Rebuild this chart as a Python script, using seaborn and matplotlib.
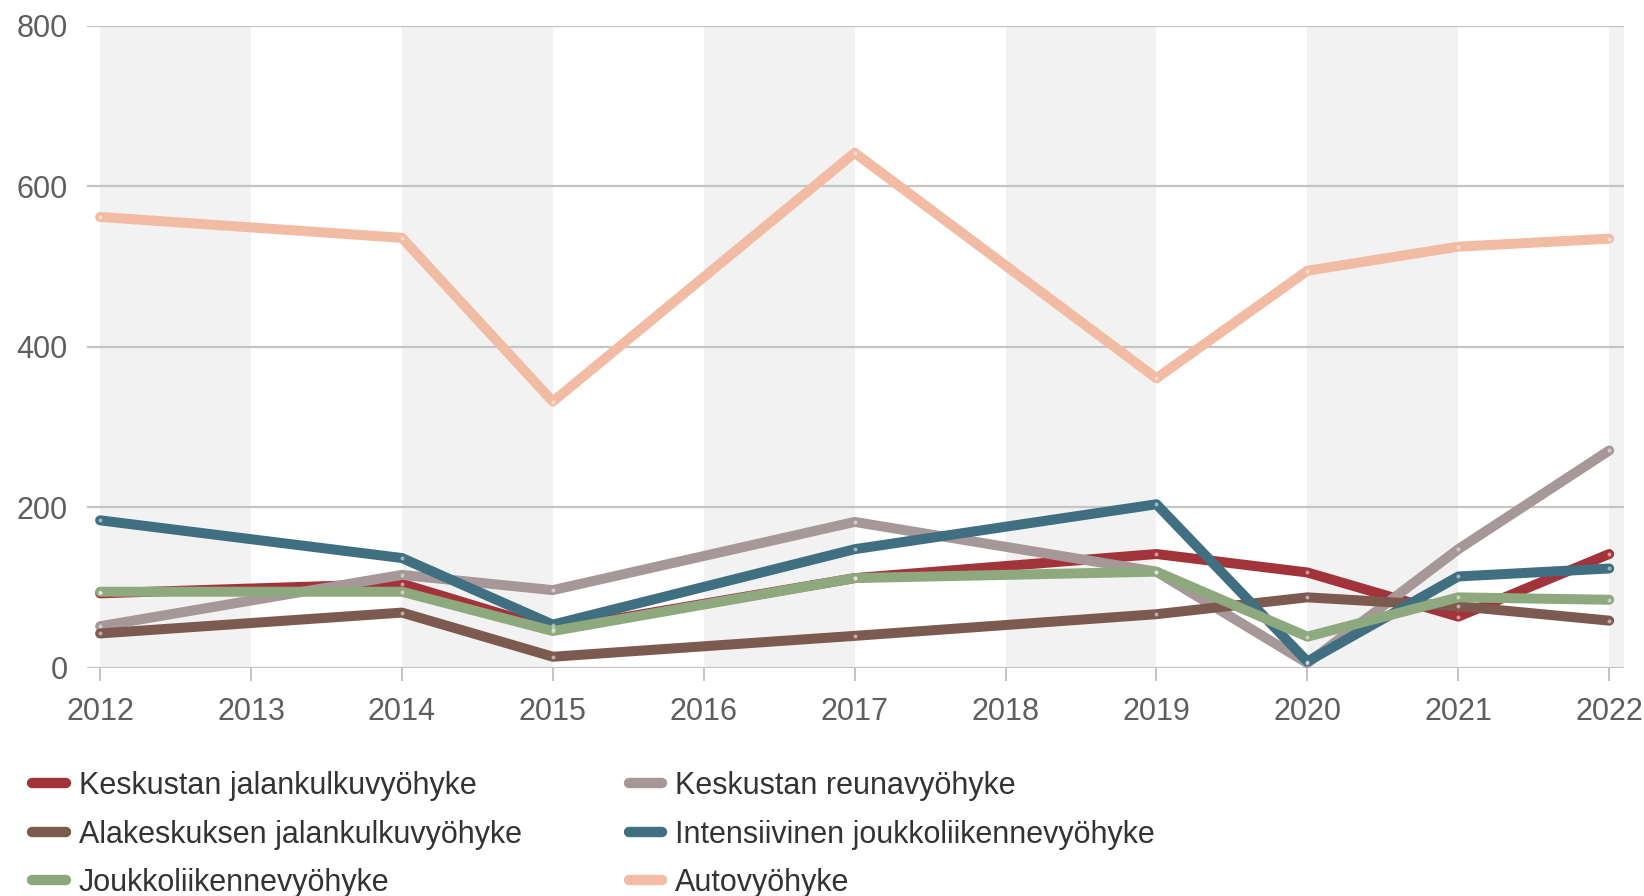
"""
Line chart of zone values 2012-2022, recreated with seaborn.
"""

import matplotlib
matplotlib.use("Agg")
import matplotlib.pyplot as plt
from matplotlib.lines import Line2D
import seaborn as sns
import pandas as pd

# Data
years = [2012, 2014, 2015, 2017, 2019, 2020, 2021, 2022]
keskustan_jalankulku = [93, 105, 48, 112, 142, 119, 64, 142]
keskustan_reuna = [52, 116, 97, 182, 120, 6, 148, 271]
alakeskuksen_jalankulku = [43, 69, 14, 40, 67, 88, 77, 59]
intensiivinen_joukkoliikenne = [184, 137, 54, 148, 204, 8, 114, 124]
joukkoliikenne = [95, 95, 46, 112, 120, 39, 88, 85]
autovyohyke = [562, 536, 332, 642, 361, 495, 525, 535]

series_names = [
    "Keskustan jalankulkuvyöhyke",
    "Keskustan reunavyöhyke",
    "Alakeskuksen jalankulkuvyöhyke",
    "Intensiivinen joukkoliikennevyöhyke",
    "Joukkoliikennevyöhyke",
    "Autovyöhyke",
]
series_values = [
    keskustan_jalankulku,
    keskustan_reuna,
    alakeskuksen_jalankulku,
    intensiivinen_joukkoliikenne,
    joukkoliikenne,
    autovyohyke,
]
colors = ["#a3333a", "#a69898", "#7d5a4f", "#3f6f80", "#8fa97e", "#f2bca4"]
palette = dict(zip(series_names, colors))

# Long format for seaborn
rows = []
for name, vals in zip(series_names, series_values):
    for yr, v in zip(years, vals):
        rows.append({"year": yr, "value": v, "zone": name})
df = pd.DataFrame(rows)

sns.set_theme(style="white")
plt.rcParams["font.family"] = ["Liberation Sans", "DejaVu Sans"]

fig = plt.figure(figsize=(16.44, 8.96), dpi=100)
ax = fig.add_axes([0.053, 0.2545, 0.935, 0.7165])

# Alternating background bands
for start in range(2012, 2023, 2):
    ax.axvspan(start, min(start + 1, 2022.1), color="#f2f2f2", lw=0, zorder=0)

# Grid lines
for yv in range(0, 801, 200):
    ax.axhline(yv, color="#c4c4c4", lw=1.6, zorder=1)

sns.lineplot(
    data=df, x="year", y="value", hue="zone", hue_order=series_names,
    palette=palette, linewidth=7.2, ax=ax, legend=False,
    solid_capstyle="round", solid_joinstyle="round", zorder=3,
)

# Small light point markers
ax.scatter(df["year"], df["value"], s=8, color="white", alpha=0.5, zorder=4, lw=0)

ax.set_xlim(2011.914, 2022.1)
ax.set_ylim(0, 800)
ax.set_xticks(range(2012, 2023))
ax.set_yticks(range(0, 801, 200))
ax.set_xlabel("")
ax.set_ylabel("")
for s in ax.spines.values():
    s.set_visible(False)
ax.tick_params(axis="x", length=9, width=1.4, color="#c4c4c4", pad=12,
               labelsize=22, labelcolor="#5e5e5e", direction="out", bottom=True)
ax.tick_params(axis="y", length=0, pad=14, labelsize=22, labelcolor="#5e5e5e")

# Legend in two columns
handles = [
    Line2D([0], [0], color=palette[n], lw=7.5, solid_capstyle="round")
    for n in series_names
]
order = [0, 2, 4, 1, 3, 5]
fig.legend(
    [handles[i] for i in order], [series_names[i] for i in order],
    loc="upper left", bbox_to_anchor=(0.003, 0.170), ncol=2, frameon=False,
    fontsize=22, handlelength=1.1, handletextpad=0.42, columnspacing=3.5,
    labelspacing=0.6, labelcolor="#333333",
)

fig.savefig("out.png", dpi=100)
plt.close(fig)
